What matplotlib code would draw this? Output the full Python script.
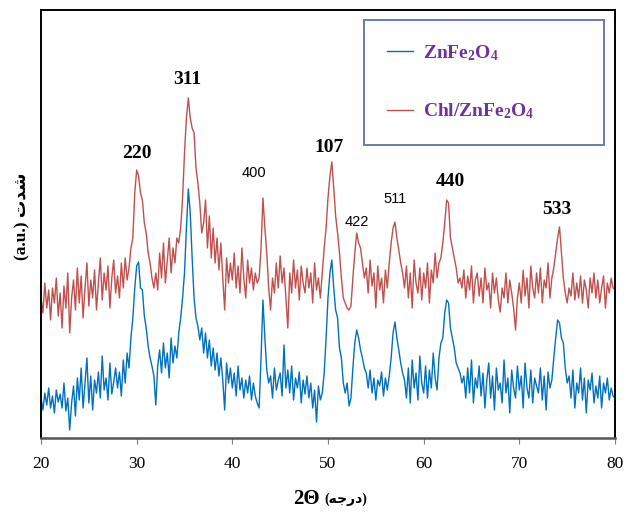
import matplotlib
matplotlib.use('Agg')
import matplotlib.pyplot as plt
import numpy as np

plt.rcParams['mathtext.fontset'] = 'custom'
plt.rcParams['mathtext.rm'] = 'Liberation Serif:bold'
plt.rcParams['mathtext.bf'] = 'Liberation Serif:bold'
plt.rcParams['mathtext.it'] = 'Liberation Serif:bold'

# 2-theta scan, 0.2 deg steps
two_theta = np.round(np.arange(20.0, 80.01, 0.2), 1)

# ZnFe2O4 intensity (a.u.)
znfe2o4 = [
    40, 28, 45, 33, 50, 30, 42, 25, 48, 36,
    44, 30, 55, 27, 40, 8, 35, 52, 22, 60,
    38, 70, 30, 55, 80, 35, 62, 28, 58, 45,
    66, 40, 82, 48, 60, 38, 75, 44, 56, 70,
    50, 66, 42, 78, 55, 85, 70, 100, 120, 150,
    172, 176, 150, 148, 122, 110, 92, 80, 72, 62,
    33, 72, 88, 65, 95, 70, 85, 60, 100, 75,
    92, 80, 105, 120, 140, 165, 210, 249, 225, 180,
    140, 120, 112, 98, 110, 85, 105, 80, 98, 72,
    90, 68, 85, 62, 80, 58, 28, 75, 55, 70,
    50, 65, 42, 72, 48, 60, 40, 58, 45, 62,
    38, 55, 42, 35, 30, 80, 138, 100, 68, 55,
    62, 40, 70, 48, 58, 65, 42, 93, 50, 68,
    45, 72, 38, 60, 50, 66, 35, 58, 44, 62,
    40, 55, 30, 48, 16, 52, 38, 45, 65, 100,
    140, 165, 178, 150, 128, 120, 90, 80, 55, 45,
    55, 32, 40, 70, 95, 108, 100, 88, 80, 70,
    65, 50, 68, 45, 60, 38, 58, 52, 66, 42,
    60, 48, 62, 80, 105, 116, 100, 88, 75, 65,
    58, 40, 70, 35, 78, 50, 65, 38, 82, 55,
    45, 72, 40, 68, 50, 85, 60, 48, 80, 95,
    100, 125, 138, 135, 110, 100, 90, 75, 70, 65,
    55, 62, 40, 70, 45, 78, 35, 60, 50, 72,
    42, 65, 30, 58, 75, 40, 62, 28, 70, 48,
    55, 35, 78, 45, 60, 25, 68, 50, 40, 72,
    48, 62, 30, 75, 50, 40, 68, 35, 60, 52,
    45, 70, 38, 62, 28, 66, 50, 58, 80, 100,
    118, 115, 100, 95, 70, 55, 62, 40, 68, 30,
    55, 45, 70, 38, 60, 25, 58, 48, 65, 35,
    52, 40, 62, 30, 55, 45, 60, 38, 50, 42,
    40,
]

# Chl/ZnFe2O4 intensity (a.u.), stacked above
chl_znfe2o4 = [
    140, 125, 155, 130, 148, 118, 150, 135, 160, 122,
    145, 110, 152, 130, 165, 105, 140, 158, 128, 170,
    135, 162, 120, 150, 175, 132, 158, 140, 168, 128,
    155, 180, 138, 165, 148, 172, 130, 160, 178, 145,
    162, 140, 175, 150, 180, 158, 170, 190, 200, 245,
    268, 262, 245, 238, 215, 205, 185, 175, 160, 150,
    165, 148, 185, 160, 195, 155, 178, 200, 165, 190,
    175, 200, 195, 210, 240, 285, 320, 340, 320, 310,
    305, 270, 255, 235, 205, 215, 238, 190, 222, 180,
    210, 175, 200, 168, 195, 160, 128, 180, 155, 175,
    158, 185, 150, 172, 145, 190, 160, 140, 178, 155,
    170, 148, 165, 155, 160, 190, 240, 210, 185, 150,
    128, 160, 145, 175, 150, 182, 155, 170, 140, 110,
    165, 145, 178, 150, 168, 138, 172, 155, 145, 170,
    150, 165, 135, 175, 148, 160, 140, 165, 190, 210,
    240, 262, 276, 250, 222, 205, 185, 160, 140, 135,
    130, 128, 132, 160, 185, 205, 195, 190, 175, 160,
    170, 145, 178, 152, 165, 130, 172, 148, 160, 135,
    168, 150, 175, 195, 210, 216, 200, 188, 175, 165,
    150, 172, 140, 165, 130, 178, 155, 145, 170, 138,
    165, 150, 175, 135, 168, 155, 185, 160, 175, 180,
    195, 215, 238, 235, 200, 190, 180, 170, 155, 160,
    150, 168, 140, 162, 148, 172, 135, 158, 165, 142,
    160, 135, 170, 148, 155, 130, 165, 145, 160, 138,
    126, 150, 140, 165, 135, 158, 145, 130, 108, 140,
    155, 135, 168, 142, 160, 130, 172, 150, 140, 165,
    145, 170, 135, 158, 150, 175, 140, 160, 170, 185,
    200, 211, 185, 160, 145, 135, 150, 142, 165, 138,
    155, 140, 162, 135, 158, 148, 130, 160, 145, 165,
    140, 158, 135, 150, 162, 130, 155, 145, 160, 150,
    148,
]

# hkl labels: text, 2theta, height, bold
peak_labels = ['220', '311', '400', '107', '422', '511', '440', '533']
peak_x = [30.0, 35.25, 42.25, 50.1, 53.0, 57.0, 62.75, 73.9]
peak_y = [285, 359, 265, 290, 216, 239, 256, 228]
peak_bold = [True, True, False, True, False, False, True, True]

fig = plt.figure(figsize=(6.26, 5.14), dpi=100)
ax = fig.add_axes([41/626, 76/514, 574/626, 428/514])

ax.plot(two_theta, znfe2o4, color='#0070C0', lw=1.0, label='ZnFe$_2$O$_4$')
ax.plot(two_theta, chl_znfe2o4, color='#C0504D', lw=1.0, label='Chl/ZnFe$_2$O$_4$')

for lab, px, py, b in zip(peak_labels, peak_x, peak_y, peak_bold):
    if b:
        ax.text(px, py, lab, ha='center', va='center', fontsize=14,
                fontweight='bold', family='Liberation Serif')
    else:
        ax.text(px, py, lab, ha='center', va='center', fontsize=10.5,
                family='Liberation Sans')

ax.set_xlim(20, 80)
ax.set_ylim(0, 428)
ax.set_xticks(np.arange(20, 81, 10))
ax.set_yticks([])
ax.tick_params(axis='x', direction='out', length=4, color='#808080',
               labelsize=12.5, pad=9)
for t in ax.get_xticklabels():
    t.set_family('Liberation Serif')

for s in ['top', 'left', 'right']:
    ax.spines[s].set_linewidth(1.4)
    ax.spines[s].set_color('black')
ax.spines['bottom'].set_linewidth(1.8)
ax.spines['bottom'].set_color('#555555')

# axis titles (Persian text given in display order)
ax.text(0.486, -0.1425, '2\u0398', transform=ax.transAxes, ha='right',
        va='center', fontsize=15, fontweight='bold', family='Liberation Serif')
ax.text(0.493, -0.1425, '(\uFEEA\uFE9F\uFEAD\uFEA9)', transform=ax.transAxes,
        ha='left', va='center', fontsize=10, fontweight='bold',
        family=['Liberation Serif', 'DejaVu Sans'])
ax.text(-0.033, 0.518, '(a.u.) \uFE95\uFEAA\uFEB7', transform=ax.transAxes,
        rotation=90, ha='center', va='center', fontsize=12.5,
        fontweight='bold', family=['Liberation Serif', 'DejaVu Sans'])

leg = ax.legend(loc='upper left', bbox_to_anchor=(0.562, 0.977, 0.418, 0.0),
                mode='expand', fancybox=False, borderpad=1.2, borderaxespad=0,
                labelspacing=2.0, handlelength=1.35, handletextpad=0.5,
                prop={'family': 'Liberation Serif', 'weight': 'bold', 'size': 14})
leg.get_frame().set_edgecolor('#3F5D9A')
leg.get_frame().set_linewidth(1.4)
for t in leg.get_texts():
    t.set_color('#7030A0')

plt.savefig('out.png', dpi=100)
